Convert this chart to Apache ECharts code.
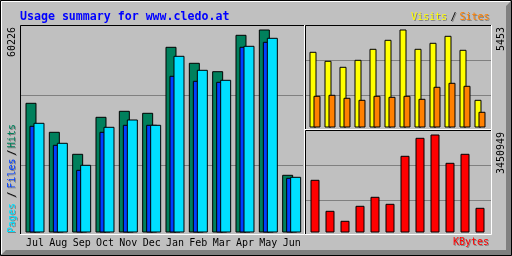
<!DOCTYPE html>
<html><head><meta charset="utf-8">
<script src="https://cdn.jsdelivr.net/npm/echarts@6/dist/echarts.min.js"></script>
<style>html,body{margin:0;padding:0;background:#C0C0C0}#c{width:512px;height:256px}</style>
</head><body><div id="c"></div>
<script>
const months = ['Jul','Aug','Sep','Oct','Nov','Dec','Jan','Feb','Mar','Apr','May','Jun'];
const hits   = [38480,29876,23349,34326,36106,35513,55093,50346,47854,58654,60226,17118];
const files  = [31656,26019,18602,29876,31953,31953,46490,45006,44710,55093,56577,16228];
const pages  = [32546,26612,20085,31359,33525,31953,52424,48270,45303,55390,57764,16525];
const visits = [4212,3711,3377,3767,4379,4880,5453,4379,4713,5102,4323,1541];
const sites  = [1764,1819,1653,1541,1764,1708,1764,1597,2265,2487,2320,874];
const kbytes = [1855776,764143,412003,940213,1257140,1010642,2700913,3334766,3450949,2454416,2771342,869786];
const maxHits = 60226, maxVisits = 5453, maxKBytes = 3450949;
const titleText = 'Usage summary for www.cledo.at';

const MONO = '"DejaVu Sans Mono", monospace';
const F10 = '10px ' + MONO;

function line(points, color) {
  return {type:'polyline', silent:true, z:10, shape:{points:points}, style:{stroke:color, lineWidth:1, fill:null}};
}
function txt(text, x, y, color, opts) {
  opts = opts || {};
  const els = [];
  const rot = opts.rot ? Math.PI/2 : 0;
  if (opts.shadow) {
    els.push({type:'text', silent:true, z:11, x:x+1, y:y+1, rotation:rot,
      style:{text:text, fill:'#808080', font:opts.font||F10, align:opts.align||'left', verticalAlign:'middle'}});
  }
  els.push({type:'text', silent:true, z:12, x:x, y:y, rotation:rot,
    style:{text:text, fill:color, font:opts.font||F10, align:opts.align||'left', verticalAlign:'middle'}});
  return els;
}

const graphics = [].concat(
  [{type:'polygon', silent:true, z:9, shape:{points:[[1,255],[511,255],[511,1],[506,6],[506,250],[6,250]]}, style:{fill:'#808080'}}],
  [{type:'rect', silent:true, z:10, shape:{x:0.5,y:0.5,width:511,height:255}, style:{stroke:'#000', fill:null, lineWidth:1}}],
  [line([[1.5,254],[1.5,1.5],[510,1.5]], '#fff')],
  // main frame
  [line([[20.5,234],[20.5,25.5],[304,25.5]], '#000'), line([[20,234.5],[304.5,234.5],[304.5,25]], '#fff')],
  // upper right frame
  [line([[305.5,129],[305.5,25.5],[491,25.5]], '#000'), line([[305,129.5],[491.5,129.5],[491.5,25]], '#fff')],
  // lower right frame
  [line([[305.5,234],[305.5,130.5],[491,130.5]], '#000'), line([[305,234.5],[491.5,234.5],[491.5,130]], '#fff')],
  txt(titleText, 20, 16.5, '#0000FF', {font:'bold 11.6px ' + MONO}),
  txt('Visits', 411, 17.4, '#FFFF00', {shadow:true}),
  txt('/', 450.5, 17.4, '#000', {shadow:true}),
  txt('Sites', 459.5, 17.4, '#FF8000', {shadow:true}),
  txt('KBytes', 453, 242.7, '#FF0000', {shadow:true}),
  txt('Pages', 12.7, 233, '#00E0FF', {shadow:true, rot:true}),
  txt('/', 12.7, 197.5, '#000', {shadow:true, rot:true}),
  txt('Files', 12.7, 188.5, '#0040FF', {shadow:true, rot:true}),
  txt('/', 12.7, 155.5, '#000', {shadow:true, rot:true}),
  txt('Hits', 12.7, 148, '#00805C', {shadow:true, rot:true}),
  txt(String(maxHits), 12.7, 57, '#000', {rot:true}),
  txt(String(maxVisits), 501.4, 51, '#000', {rot:true}),
  txt(String(maxKBytes), 501.4, 174, '#000', {rot:true})
);

function frameY(idx) {
  return {type:'value', gridIndex:idx, min:0, max:3, interval:1,
    axisLine:{show:false}, axisTick:{show:false}, axisLabel:{show:false},
    splitLine:{show:true, showMinLine:false, showMaxLine:false, lineStyle:{color:'#808080', width:1, type:'solid'}}};
}
function frameX(idx) {
  return {type:'value', gridIndex:idx, min:0, max:1, show:false};
}
function barStyle(c){ return {color:c, borderColor:'#000', borderWidth:1}; }

const option = {
  animation:false,
  backgroundColor:'#C0C0C0',
  grid:[
    {left:23.33, top:29.5, width:280, height:203},
    {left:307.5, top:29.5, width:180, height:98},
    {left:307.5, top:134.5, width:180, height:98},
    {left:21, top:25, width:282, height:210},
    {left:306, top:25, width:185, height:105},
    {left:306, top:130, width:185, height:105}
  ],
  xAxis:[
    {type:'category', gridIndex:0, data:months, axisLine:{show:false}, axisTick:{show:false},
     axisLabel:{interval:0, margin:6, color:'#000', fontFamily:MONO, fontSize:10}, splitLine:{show:false}},
    {type:'category', gridIndex:1, data:months, show:false},
    {type:'category', gridIndex:2, data:months, show:false},
    frameX(3), frameX(4), frameX(5)
  ],
  yAxis:[
    {type:'value', gridIndex:0, min:0, max:maxHits, show:false},
    {type:'value', gridIndex:1, min:0, max:maxVisits, show:false},
    {type:'value', gridIndex:2, min:0, max:maxKBytes, show:false},
    frameY(3), frameY(4), frameY(5)
  ],
  series:[
    {type:'bar', name:'Hits', xAxisIndex:0, yAxisIndex:0, data:hits, barWidth:11, barGap:'-63.64%', itemStyle:barStyle('#00805C'), silent:true},
    {type:'bar', name:'Files', xAxisIndex:0, yAxisIndex:0, data:files, barWidth:11, barGap:'-63.64%', itemStyle:barStyle('#0040FF'), silent:true},
    {type:'bar', name:'Pages', xAxisIndex:0, yAxisIndex:0, data:pages, barWidth:11, barGap:'-63.64%', itemStyle:barStyle('#00E0FF'), silent:true},
    {type:'bar', name:'Visits', xAxisIndex:1, yAxisIndex:1, data:visits, barWidth:7, barGap:'-42.86%', itemStyle:barStyle('#FFFF00'), silent:true},
    {type:'bar', name:'Sites', xAxisIndex:1, yAxisIndex:1, data:sites, barWidth:7, barGap:'-42.86%', itemStyle:barStyle('#FF8000'), silent:true},
    {type:'bar', name:'KBytes', xAxisIndex:2, yAxisIndex:2, data:kbytes, barWidth:9, itemStyle:barStyle('#FF0000'), silent:true}
  ],
  graphic: graphics
};
const chart = echarts.init(document.getElementById('c'), null, {renderer:'canvas'});
chart.setOption(option);
</script>
</body></html>
